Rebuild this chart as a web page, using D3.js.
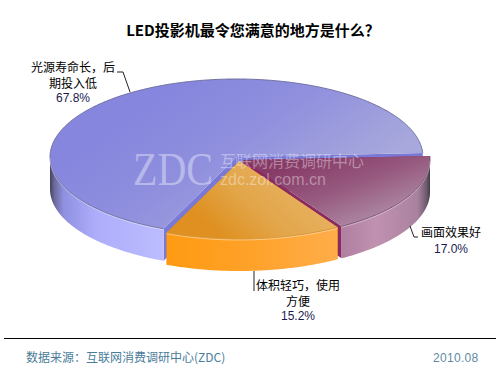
<!DOCTYPE html>
<html>
<head>
<meta charset="utf-8">
<script src="https://d3js.org/d3.v7.min.js"></script>
<style>
  html, body { margin: 0; padding: 0; background: #fff; }
  text { font-family: "Noto Sans CJK SC", sans-serif; }
  .num { font-family: "Liberation Sans", Arial, sans-serif; }
</style>
</head>
<body>
<div id="chart"></div>
<script>
// Values
const categories = ["光源寿命长，后期投入低", "画面效果好", "体积轻巧，使用方便"];
const values = [67.8, 17.0, 15.2];
const valueLabels = ["67.8%", "17.0%", "15.2%"];
const labelLines = [["光源寿命长，后", "期投入低"], ["画面效果好"], ["体积轻巧，使用", "方便"]];

const width = 500, height = 375;
const cx = 236.5, cy = 157, rx = 186.5, ry = 78, depth = 32;

const svg = d3.select("#chart").append("svg")
    .attr("width", width)
    .attr("height", height);

const defs = svg.append("defs");

function gradient(id, stops, x1, y1, x2, y2) {
    const g = defs.append("linearGradient").attr("id", id)
        .attr("gradientUnits", "userSpaceOnUse")
        .attr("x1", x1).attr("y1", y1).attr("x2", x2).attr("y2", y2);
    stops.forEach(s => g.append("stop").attr("offset", s[0]).attr("stop-color", s[1]));
}

// top faces
gradient("top0", [[0, "#8686de"], [0.45, "#9090de"], [1, "#a8a8dc"]], 190, 80, 290, 225);
gradient("top1", [[0, "#873c68"], [0.45, "#96587e"], [1, "#b08ea8"]], 320, 155, 350, 235);
gradient("top2", [[0, "#e8b263"], [0.55, "#e2a548"], [1, "#df9020"]], 290, 170, 225, 240);
// side walls
gradient("side0", [[0, "#43435f"], [0.04, "#6a6a9c"], [0.12, "#9090e2"], [0.4, "#adadfb"], [1, "#bcbcff"]], 50, 0, 164, 0);
gradient("side1", [[0, "#b07f9f"], [0.4, "#c191b1"], [0.85, "#a9829f"], [0.95, "#6f5a6f"], [1, "#33303c"]], 340, 0, 431, 0);
gradient("side2", [[0, "#ff9a12"], [0.5, "#ffa22a"], [1, "#ffad4a"]], 167, 0, 338, 0);

const wallColors = ["#7a7ad6", "#8a2a60", "#e08a10"];
const rimColors = ["#6f6fa0", "#7a5070", "#d89838"];
// how far each slice is pulled out of the pie
const offsets = [[0, 0], [7, 3], [3, 4]];

// d3 angles start at 12 o'clock and run clockwise
const pie = d3.pie().sort(null)
    .startAngle(203 * Math.PI / 180)
    .endAngle((203 + 360) * Math.PI / 180);
const slices = pie(values);

function frontAngles(d) {
    let out = [];
    // front half of the ellipse is 90..270 degrees, also checked one turn on
    [0, 2 * Math.PI].forEach(turn => {
        const a0 = Math.max(d.startAngle, Math.PI / 2 + turn);
        const a1 = Math.min(d.endAngle, 3 * Math.PI / 2 + turn);
        if (a1 > a0) {
            out = out.concat(d3.range(a0, a1, 0.01), [a1]);
        }
    });
    return out;
}

slices.forEach((d, i) => {
    const ox = cx + offsets[i][0], oy = cy + offsets[i][1];
    const px = a => ox + rx * Math.sin(a);
    const py = a => oy - ry * Math.cos(a);
    const g = svg.append("g");

    // cut walls
    [d.startAngle, d.endAngle].forEach(a => {
        g.append("path")
            .attr("d", d3.line()([[ox, oy], [px(a), py(a)], [px(a), py(a) + depth], [ox, oy + depth]]))
            .attr("fill", wallColors[i]);
    });

    // outer wall, only the part that faces the viewer
    const sideArea = d3.area().x(a => px(a)).y0(a => py(a)).y1(a => py(a) + depth);
    g.append("path")
        .attr("d", sideArea(frontAngles(d)))
        .attr("fill", `url(#side${i})`);

    // top face
    const rimAngles = d3.range(d.startAngle, d.endAngle, 0.01).concat([d.endAngle]);
    const topPts = [[ox, oy]].concat(rimAngles.map(a => [px(a), py(a)]));
    g.append("path")
        .attr("d", d3.line()(topPts) + "Z")
        .attr("fill", `url(#top${i})`);

    // rim
    const rim = d3.line().x(a => px(a)).y(a => py(a));
    g.append("path")
        .attr("d", rim(rimAngles))
        .attr("fill", "none")
        .attr("stroke", rimColors[i])
        .attr("stroke-width", 1);
    g.append("path")
        .attr("d", rim(frontAngles(d)))
        .attr("fill", "none")
        .attr("stroke", "#fff")
        .attr("stroke-opacity", 0.4)
        .attr("stroke-width", 1)
        .attr("transform", "translate(0,1)");
});

// watermark
const mark = svg.append("g").attr("fill", "#fff").attr("fill-opacity", 0.38);
mark.append("text")
    .attr("x", 133).attr("y", 185)
    .attr("textLength", 80).attr("lengthAdjust", "spacingAndGlyphs")
    .style("font-family", '"Liberation Serif", serif')
    .style("font-size", "46px")
    .text("ZDC");
mark.append("text")
    .attr("x", 220).attr("y", 167)
    .style("font-size", "16px")
    .text("互联网消费调研中心");
mark.append("text").attr("class", "num")
    .attr("x", 220).attr("y", 185)
    .style("font-size", "16px")
    .text("zdc.zol.com.cn");

// title
svg.append("text")
    .attr("x", 253).attr("y", 36)
    .attr("text-anchor", "middle")
    .attr("fill", "#000")
    .style("font-size", "15px")
    .style("font-weight", "bold")
    .text("LED投影机最令您满意的地方是什么？");

// labels
const labelPos = [[73, 72], [451, 237], [298, 290]];
slices.forEach((d, i) => {
    const g = svg.append("g")
        .attr("text-anchor", "middle")
        .attr("transform", `translate(${labelPos[i][0]},${labelPos[i][1]})`)
        .style("font-size", "12px");
    labelLines[i].forEach((line, j) => {
        g.append("text").attr("y", j * 16).attr("fill", "#000").text(line);
    });
    g.append("text").attr("class", "num")
        .attr("y", labelLines[i].length * 15 + (labelLines[i].length > 1 ? 0 : 1))
        .attr("fill", "#1a1a50")
        .text(valueLabels[i]);
});

// leader lines
const leaders = [
    [[117, 72], [123, 72], [130, 92]],
    [[410, 226], [414, 237], [418, 237]],
    [[254, 271], [254, 291]]
];
leaders.forEach(pts => {
    svg.append("path")
        .attr("d", d3.line()(pts))
        .attr("fill", "none")
        .attr("stroke", "#222")
        .attr("stroke-width", 1);
});

// footer
svg.append("line")
    .attr("x1", 4).attr("x2", 496)
    .attr("y1", 338.5).attr("y2", 338.5)
    .attr("stroke", "#000");
svg.append("text")
    .attr("x", 26).attr("y", 362)
    .attr("fill", "#4a7d9a")
    .style("font-size", "12px")
    .text("数据来源：互联网消费调研中心(ZDC)");
svg.append("text").attr("class", "num")
    .attr("x", 433).attr("y", 362)
    .attr("fill", "#5f8aa3")
    .style("font-size", "12px")
    .style("letter-spacing", "0.3px")
    .text("2010.08");
</script>
</body>
</html>
